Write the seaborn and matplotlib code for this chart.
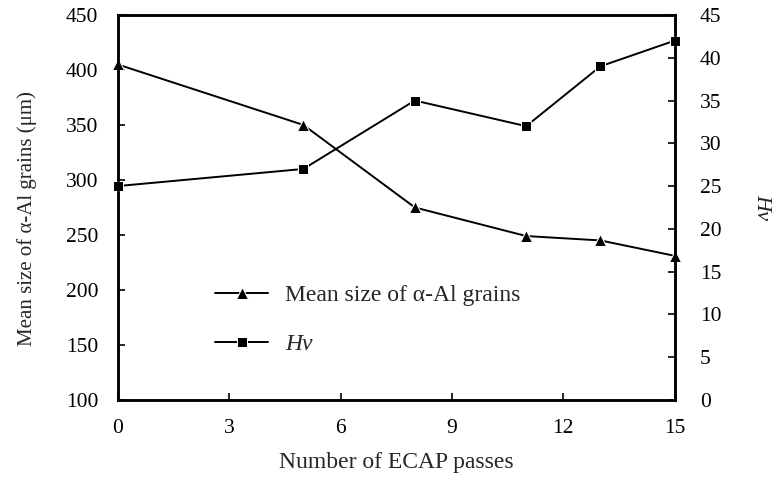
import pandas as pd
import matplotlib
matplotlib.use("Agg")
import matplotlib.pyplot as plt
import seaborn as sns

# Data
passes = [0, 5, 8, 11, 13, 15]
grain_size = [405, 350, 275, 249, 245, 231]
hardness = [25, 27, 35, 32, 39, 42]

df = pd.DataFrame({"passes": passes, "grain": grain_size, "hv": hardness})

sns.set_style("white")
plt.rcParams["font.family"] = ["Liberation Serif", "DejaVu Serif"]

fig = plt.figure(figsize=(7.8, 4.83), dpi=100)
ax = fig.add_axes([0.151, 0.172, 0.714, 0.797])
ax2 = ax.twinx()

sns.lineplot(data=df, x="passes", y="grain", ax=ax, color="black",
             marker="^", markersize=8, linewidth=1.4,
             label="Mean size of α-Al grains", clip_on=False, legend=False)
sns.lineplot(data=df, x="passes", y="hv", ax=ax2, color="black",
             marker="s", markersize=7, linewidth=1.4,
             label="Hv", clip_on=False, legend=False)

ax.set_xlim(0, 15)
ax.set_ylim(100, 450)
ax2.set_ylim(0, 45)
ax.set_xticks([0, 3, 6, 9, 12, 15])
ax.set_yticks(range(100, 451, 50))
ax2.set_yticks(range(0, 46, 5))

for a in (ax, ax2):
    for s in a.spines.values():
        s.set_color("black")
        s.set_linewidth(1.8)
ax.tick_params(axis="x", direction="in", length=5, width=1.2,
               labelsize=15.5, colors="black", pad=14,
               bottom=True, top=False)
ax.tick_params(axis="y", direction="in", length=5, width=1.2,
               labelsize=15.5, colors="black", pad=14,
               left=True, right=False)
ax2.tick_params(axis="y", direction="in", length=5, width=1.2,
                labelsize=15.5, colors="black", pad=18, right=True)

ax.set_xlabel("Number of ECAP passes", fontsize=17, labelpad=10)
ax.set_ylabel("Mean size of α-Al grains (μm)", fontsize=15)
ax.yaxis.set_label_coords(-0.145, 0.47)
ax2.set_ylabel("Hv", fontsize=16, rotation=270, labelpad=36,
               fontstyle="italic")

h1, l1 = ax.get_legend_handles_labels()
h2, l2 = ax2.get_legend_handles_labels()
leg = ax.legend(h1 + h2, l1 + l2, loc="upper left",
                bbox_to_anchor=(0.137, 0.355), frameon=False,
                fontsize=17, handlelength=2.25, labelspacing=1.17,
                handletextpad=0.7)
leg.get_texts()[1].set_fontstyle("italic")

fig.savefig("out.png", dpi=100)
